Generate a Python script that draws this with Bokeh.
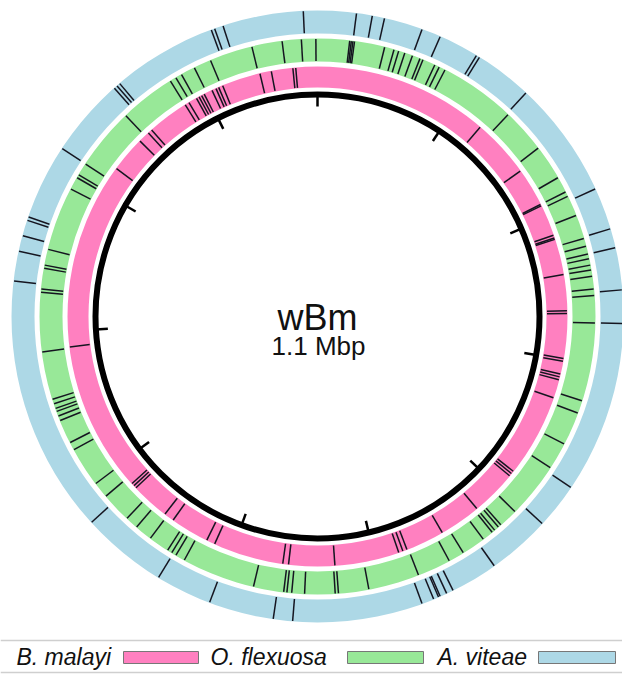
import numpy as np
from bokeh.plotting import figure
from bokeh.models import Range1d, ColumnDataSource
from bokeh.core.properties import value
from bokeh.embed import file_html
from bokeh.resources import INLINE

# ---------------- data ----------------
GENOME_KB = 1080
genome_name = "wBm"
genome_size_label = "1.1 Mbp"
species = ["B. malayi", "O. flexuosa", "A. viteae"]
ring_colors = ["#FF80C0", "#98E898", "#ADD8E6"]
tick_kb = [0, 100, 200, 300, 400, 500, 600, 700, 800, 900, 1000]

bmalayi_kb = [122, 163, 190, 191, 213, 215, 216, 241, 266, 268, 299, 301, 310, 312, 314,
              327, 385, 387, 389, 421, 450, 477, 480, 483, 528, 560, 564, 613, 619, 646,
              653, 680, 682, 684, 789, 919, 944, 952, 955, 984, 987, 993, 995, 997, 999,
              1005, 1008, 1010, 1013, 1040, 1048, 1063, 1065]
oflexuosa_kb = [20, 21, 22, 23, 42, 48, 51, 55, 60, 65, 67, 75, 78, 82, 130, 158, 180, 190,
                193, 206, 221, 226, 231, 234, 238, 241, 245, 253, 257, 274, 323, 331, 352,
                369, 404, 416, 418, 421, 423, 430, 445, 455, 476, 508, 527, 529, 548, 556,
                559, 561, 580, 626, 632, 635, 638, 651, 662, 670, 689, 699, 724, 729, 744,
                747, 750, 752, 755, 758, 788, 825, 827, 840, 842, 852, 892, 900, 902, 910,
                949, 984, 988, 992, 1001, 1012, 1039, 1058, 1070, 1079]
aviteae_kb = [22, 31, 38, 60, 71, 94, 96, 129, 196, 220, 231, 255, 274, 372, 398, 434, 461,
              465, 469, 470, 473, 480, 554, 565, 602, 634, 683, 830, 847, 856, 865, 867,
              910, 955, 957, 959, 1019, 1021, 1026, 1072]

features = [bmalayi_kb, oflexuosa_kb, aviteae_kb]

# ---------------- layout ----------------
ring_radii = [(229, 250), (255, 278), (283, 306)]
R_AXIS = 222
FONT = "Liberation Sans"

p = figure(width=622, height=674, x_range=Range1d(-317, 305), y_range=Range1d(-358, 316),
           output_backend="svg", toolbar_location=None, min_border=0)
p.axis.visible = False
p.grid.visible = False
p.outline_line_color = None
p.background_fill_color = "white"


def polar(kb, r):
    th = np.asarray(kb, dtype=float) / GENOME_KB * 2 * np.pi
    return r * np.sin(th), r * np.cos(th)


# rings
for (ri, ro), col, feats in zip(ring_radii, ring_colors, features):
    p.annulus(x=0, y=0, inner_radius=ri, outer_radius=ro, fill_color=col, line_color=None)
    x0, y0 = polar(feats, ri + 0.5)
    x1, y1 = polar(feats, ro - 0.5)
    src = ColumnDataSource(dict(x0=x0, y0=y0, x1=x1, y1=y1))
    p.segment(x0="x0", y0="y0", x1="x1", y1="y1", source=src, line_color="#151520",
              line_width=1.5)

# genome axis circle
p.circle(x=0, y=0, radius=R_AXIS, fill_color=None, line_color="black", line_width=6)
tx0, ty0 = polar(tick_kb, R_AXIS)
tx1, ty1 = polar(tick_kb, R_AXIS - 12)
p.segment(x0=tx0, y0=ty0, x1=tx1, y1=ty1, line_color="black", line_width=2.5)

# centre label
p.text(x=[0], y=[-1], text=[genome_name], text_font=value(FONT), text_font_size="36px",
       text_align="center", text_baseline="alphabetic", text_color="#111111")
p.text(x=[1], y=[-29], text=[genome_size_label], text_font=value(FONT), text_font_size="26px",
       text_align="center", text_baseline="alphabetic", text_color="#111111")

# legend strip
p.segment(x0=[-317, -317], y0=[-324, -356], x1=[305, 305], y1=[-324, -356],
          line_color="#cfcfcf", line_width=1.5)
label_x = [-301, -107, 120]
box_left = [-194, 30, 221]
box_right = [-119, 106, 298]
p.text(x=label_x, y=[-340] * 3, text=species, text_font=value(FONT), text_font_size="23px",
       text_font_style="italic", text_align="left", text_baseline="middle",
       text_color="#111111")
p.quad(left=box_left, right=box_right, bottom=[-347] * 3, top=[-335] * 3,
       fill_color=ring_colors, line_color="#777777", line_width=1)

open("out.html", "w").write(file_html(p, INLINE))
